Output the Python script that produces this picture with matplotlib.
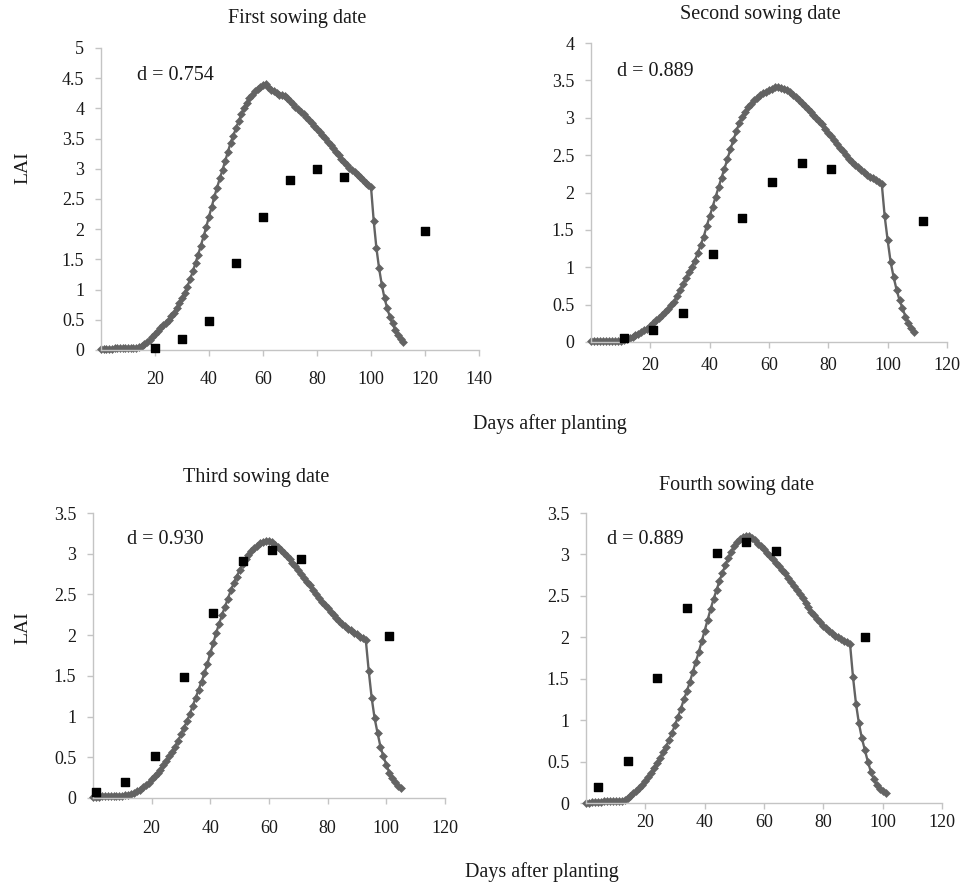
import numpy as np
import matplotlib.pyplot as plt
from matplotlib.ticker import FuncFormatter

plt.rcParams['font.family'] = ['Liberation Serif', 'DejaVu Serif']

# simulated LAI, one value per day after planting
sim1 = [0.01, 0.01, 0.01, 0.02, 0.02, 0.03, 0.03, 0.03, 0.03, 0.03, 0.03,
        0.03, 0.04, 0.04, 0.05, 0.07, 0.10, 0.13, 0.17, 0.22, 0.27,
        0.32, 0.36, 0.41, 0.45, 0.50, 0.56, 0.62, 0.69, 0.77, 0.86,
        0.95, 1.05, 1.17, 1.30, 1.44, 1.58, 1.73, 1.88, 2.04, 2.21,
        2.37, 2.54, 2.69, 2.84, 2.98, 3.13, 3.28, 3.43, 3.55, 3.67,
        3.79, 3.90, 4.00, 4.09, 4.17, 4.23, 4.28, 4.32, 4.35, 4.38,
        4.40, 4.36, 4.31, 4.28, 4.25, 4.23, 4.22, 4.20, 4.17, 4.13,
        4.08, 4.03, 3.99, 3.94, 3.90, 3.85, 3.81, 3.76, 3.71, 3.66,
        3.61, 3.56, 3.51, 3.45, 3.40, 3.34, 3.28, 3.23, 3.17, 3.11,
        3.06, 3.02, 2.98, 2.94, 2.90, 2.86, 2.81, 2.77, 2.73, 2.70,
        2.14, 1.69, 1.35, 1.08, 0.86, 0.69, 0.55, 0.44, 0.33, 0.25,
        0.19, 0.14]
sim2 = [0.01, 0.01, 0.01, 0.01, 0.02, 0.02, 0.02, 0.02, 0.02, 0.02, 0.02,
        0.03, 0.04, 0.05, 0.07, 0.09, 0.11, 0.13, 0.16, 0.18, 0.21,
        0.25, 0.29, 0.32, 0.36, 0.40, 0.44, 0.49, 0.54, 0.61, 0.69,
        0.77, 0.85, 0.93, 1.01, 1.09, 1.19, 1.30, 1.41, 1.55, 1.68,
        1.81, 1.94, 2.07, 2.20, 2.32, 2.45, 2.58, 2.70, 2.82, 2.93,
        3.01, 3.08, 3.14, 3.19, 3.24, 3.27, 3.30, 3.33, 3.35, 3.37,
        3.39, 3.41, 3.41, 3.40, 3.39, 3.37, 3.34, 3.31, 3.28, 3.24,
        3.20, 3.16, 3.12, 3.08, 3.04, 3.00, 2.95, 2.91, 2.85, 2.80,
        2.75, 2.70, 2.65, 2.60, 2.55, 2.50, 2.45, 2.41, 2.37, 2.34,
        2.30, 2.27, 2.24, 2.21, 2.19, 2.17, 2.14, 2.12,
        1.68, 1.36, 1.07, 0.87, 0.70, 0.56, 0.45, 0.34, 0.26, 0.19, 0.14]
sim3 = [0.01, 0.01, 0.01, 0.02, 0.02, 0.03, 0.03, 0.03, 0.03, 0.03, 0.03,
        0.04, 0.04, 0.05, 0.06, 0.08, 0.10, 0.13, 0.16, 0.19, 0.23,
        0.27, 0.31, 0.35, 0.40, 0.45, 0.51, 0.57, 0.63, 0.70, 0.78,
        0.86, 0.94, 1.03, 1.13, 1.23, 1.33, 1.43, 1.53, 1.65, 1.78,
        1.90, 2.03, 2.14, 2.25, 2.35, 2.45, 2.55, 2.64, 2.72, 2.80,
        2.87, 2.93, 2.98, 3.03, 3.07, 3.10, 3.13, 3.15, 3.16, 3.16,
        3.14, 3.11, 3.08, 3.05, 3.01, 2.97, 2.93, 2.89, 2.85, 2.80,
        2.75, 2.70, 2.65, 2.61, 2.56, 2.51, 2.46, 2.41, 2.37, 2.33,
        2.29, 2.25, 2.21, 2.17, 2.14, 2.11, 2.08, 2.06, 2.03, 2.01,
        1.98, 1.96, 1.94,
        1.56, 1.23, 0.98, 0.80, 0.63, 0.51, 0.41, 0.31, 0.25, 0.20,
        0.15, 0.12]
sim4 = [0.00, 0.00, 0.01, 0.01, 0.01, 0.01, 0.02, 0.02, 0.02, 0.02, 0.02,
        0.03, 0.03, 0.04, 0.06, 0.09, 0.12, 0.15, 0.18, 0.22, 0.26,
        0.31, 0.36, 0.42, 0.48, 0.54, 0.61, 0.68, 0.76, 0.85, 0.94,
        1.04, 1.14, 1.25, 1.35, 1.46, 1.58, 1.70, 1.82, 1.95, 2.08,
        2.21, 2.34, 2.46, 2.57, 2.68, 2.78, 2.87, 2.96, 3.03, 3.10,
        3.15, 3.19, 3.21, 3.22, 3.22, 3.20, 3.17, 3.13, 3.10, 3.06,
        3.02, 2.98, 2.94, 2.90, 2.86, 2.81, 2.77, 2.72, 2.67, 2.62,
        2.57, 2.52, 2.47, 2.41, 2.36, 2.31, 2.27, 2.22, 2.18, 2.14,
        2.11, 2.08, 2.05, 2.02, 2.00, 1.98, 1.96, 1.94, 1.92,
        1.52, 1.20, 0.96, 0.78, 0.64, 0.50, 0.38, 0.29, 0.22, 0.17,
        0.14, 0.12]

# observed LAI
obs1_day = [20, 30, 40, 50, 60, 70, 80, 90, 120]
obs1_lai = [0.04, 0.18, 0.48, 1.44, 2.20, 2.82, 2.99, 2.87, 1.97]
obs2_day = [11, 21, 31, 41, 51, 61, 71, 81, 112]
obs2_lai = [0.06, 0.16, 0.39, 1.18, 1.66, 2.14, 2.40, 2.31, 1.62]
obs3_day = [1, 11, 21, 31, 41, 51, 61, 71, 101]
obs3_lai = [0.07, 0.20, 0.51, 1.49, 2.27, 2.91, 3.05, 2.93, 1.99]
obs4_day = [4, 14, 24, 34, 44, 54, 64, 94]
obs4_lai = [0.19, 0.51, 1.51, 2.35, 3.02, 3.15, 3.04, 2.00]

titles = ['First sowing date', 'Second sowing date',
          'Third sowing date', 'Fourth sowing date']
d_labels = ['d = 0.754', 'd = 0.889', 'd = 0.930', 'd = 0.889']
xmax = [140, 120, 120, 120]
ymax = [5, 4, 3.5, 3.5]

W, H = 962, 884
fig = plt.figure(figsize=(W / 100, H / 100), dpi=100)

# axes boxes in pixels: left, x-end, y0 (bottom), ytop
boxes = [(101, 479, 350, 48), (591, 947, 342, 43),
         (93, 445, 798, 513), (586, 942, 803, 513)]
title_pos = [(297, 18), (760, 15), (256, 478), (737, 485)]
d_pos = [(137, 75), (617, 72), (127, 540), (607, 540)]
xpads = [11, 6.5, 12, 4]

sims = [sim1, sim2, sim3, sim4]
obs = [(obs1_day, obs1_lai), (obs2_day, obs2_lai),
       (obs3_day, obs3_lai), (obs4_day, obs4_lai)]

axis_col = '#c4c4c4'
line_col = '#636363'
txt_col = '#1a1a1a'
fmt = FuncFormatter(lambda v, p: ('%g' % v))

for i in range(4):
    l, r, b, t = boxes[i]
    ax = fig.add_axes([l / W, 1 - b / H, (r - l) / W, (b - t) / H])
    days = np.arange(len(sims[i]))
    ax.plot(days, sims[i], color=line_col, lw=1.7, marker='D', ms=4.2,
            mfc=line_col, mec=line_col, mew=0.4, clip_on=False, zorder=2)
    ax.scatter(obs[i][0], obs[i][1], marker='s', s=28, color='black',
               zorder=3, clip_on=False)
    ax.set_xlim(0, xmax[i])
    ax.set_ylim(0, ymax[i])
    ax.set_xticks(np.arange(20, xmax[i] + 1, 20))
    ax.set_yticks(np.arange(0, ymax[i] + 0.01, 0.5))
    ax.yaxis.set_major_formatter(fmt)
    for s in ['top', 'right']:
        ax.spines[s].set_visible(False)
    for s in ['left', 'bottom']:
        ax.spines[s].set_color(axis_col)
        ax.spines[s].set_linewidth(1.0)
    ax.tick_params(axis='x', colors=axis_col, labelcolor=txt_col,
                   length=4, width=1, pad=xpads[i], labelsize=13)
    ax.tick_params(axis='y', colors=axis_col, labelcolor=txt_col,
                   length=4, width=1, pad=8, labelsize=13)
    dx, dy = d_pos[i]
    fig.text(dx / W, 1 - dy / H, d_labels[i], ha='left', va='center',
             fontsize=14.5, color=txt_col)
    tx, ty = title_pos[i]
    fig.text(tx / W, 1 - ty / H, titles[i], ha='center', va='center',
             fontsize=14.5, color=txt_col)

fig.text(23 / W, 1 - 168 / H, 'LAI', rotation=90, ha='center', va='center',
         fontsize=14, color=txt_col)
fig.text(23 / W, 1 - 628 / H, 'LAI', rotation=90, ha='center', va='center',
         fontsize=14, color=txt_col)
fig.text(550 / W, 1 - 424 / H, 'Days after planting', ha='center',
         va='center', fontsize=14.5, color=txt_col)
fig.text(542 / W, 1 - 872 / H, 'Days after planting', ha='center',
         va='center', fontsize=14.5, color=txt_col)

fig.savefig('out.png', dpi=100)
